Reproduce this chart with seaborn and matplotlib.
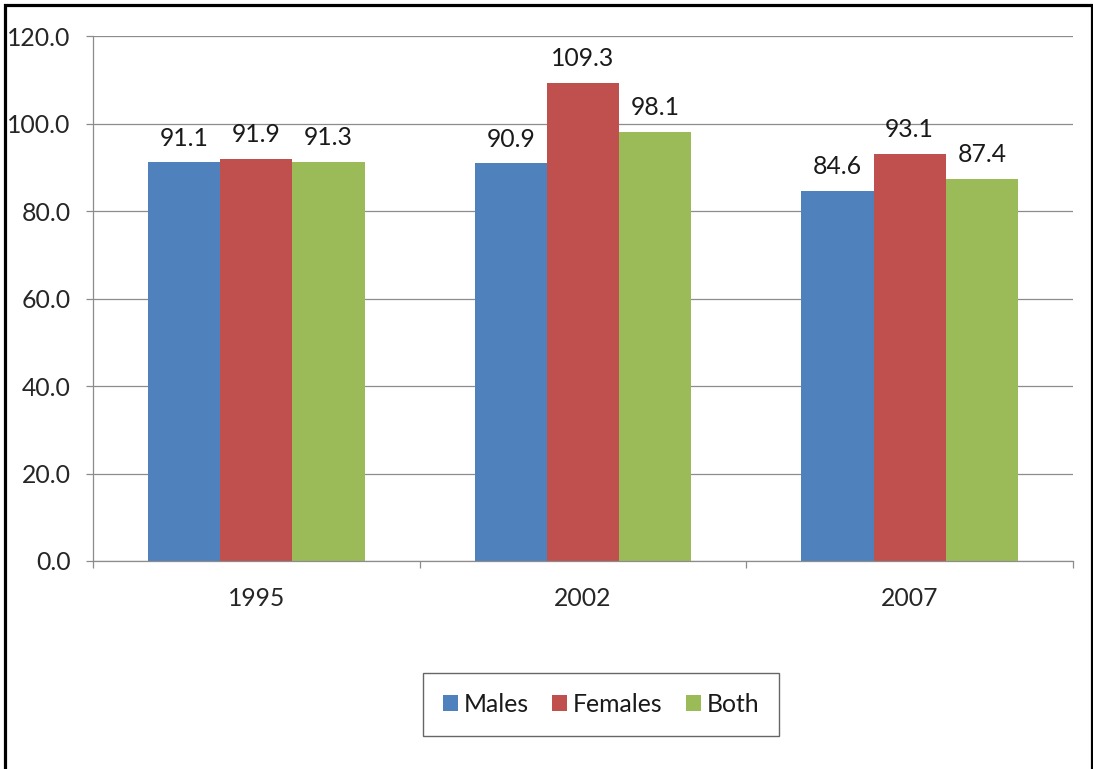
import matplotlib
matplotlib.use("Agg")
import matplotlib.pyplot as plt
from matplotlib.patches import Rectangle
import pandas as pd
import seaborn as sns

# Values by survey year
years = ["1995", "2002", "2007"]
males = [91.1, 90.9, 84.6]
females = [91.9, 109.3, 93.1]
both = [91.3, 98.1, 87.4]
series_names = ["Males", "Females", "Both"]
y_ticks = [0, 20, 40, 60, 80, 100, 120]

palette = ["#4F81BD", "#C0504D", "#9BBB59"]

rows = []
for name, vals in zip(series_names, [males, females, both]):
    for yr, v in zip(years, vals):
        rows.append({"Year": yr, "Group": name, "Value": v})
df = pd.DataFrame(rows)

sns.set_style("white")
plt.rcParams["font.family"] = ["Lato", "DejaVu Sans"]
plt.rcParams["text.color"] = "#1a1a1a"

FS = 17.8
W, H = 1093, 769
fig = plt.figure(figsize=(W / 100, H / 100), dpi=100)
ax = fig.add_axes([93 / W, 1 - 561 / H, (1073 - 93) / W, (561 - 36) / H])

sns.barplot(data=df, x="Year", y="Value", hue="Group", order=years,
            hue_order=series_names, palette=palette, width=0.664,
            linewidth=0, saturation=1, errorbar=None, ax=ax, legend=True)

for cont in ax.containers:
    ax.bar_label(cont, fmt="%.1f", padding=9.0, fontsize=FS, color="#1a1a1a")

grid_col = "#8c8c8c"
ax.set_ylim(0, 120)
ax.set_xlim(-0.5, 2.5)
ax.set_yticks(y_ticks)
ax.set_yticklabels([f"{t:.1f}" for t in y_ticks], fontsize=FS)
ax.yaxis.grid(True, color=grid_col, linewidth=0.9)
ax.set_axisbelow(True)
ax.set_xlabel("")
ax.set_ylabel("")
ax.tick_params(axis="y", which="major", length=5, width=0.9, color=grid_col,
               pad=11, left=True)
ax.tick_params(axis="x", which="major", length=0, pad=19, labelsize=FS)
ax.set_xticks([-0.5, 0.5, 1.5, 2.5], minor=True)
ax.tick_params(axis="x", which="minor", length=5, width=0.9, color=grid_col,
               bottom=True)
for s in ["top", "right"]:
    ax.spines[s].set_visible(False)
for s in ["left", "bottom"]:
    ax.spines[s].set_color(grid_col)
    ax.spines[s].set_linewidth(0.9)

handles, labels = ax.get_legend_handles_labels()
ax.get_legend().remove()
leg = fig.legend(handles, labels, loc="center", ncol=3,
                 bbox_to_anchor=(601 / W, 1 - 704.5 / H),
                 frameon=True, fancybox=False, fontsize=FS,
                 handlelength=0.62, handleheight=0.62, handletextpad=0.22,
                 columnspacing=0.95, borderpad=0.8)
leg.get_frame().set_edgecolor("#404040")
leg.get_frame().set_linewidth(1.0)

# Outer chart frame
fig.patches.append(Rectangle((4.5 / W, -0.05), (1091.5 - 4.5) / W, 1.05 - 4.5 / H,
                             transform=fig.transFigure, fill=False,
                             edgecolor="black", linewidth=2.3))

fig.savefig("out.png", dpi=100, facecolor="white")
